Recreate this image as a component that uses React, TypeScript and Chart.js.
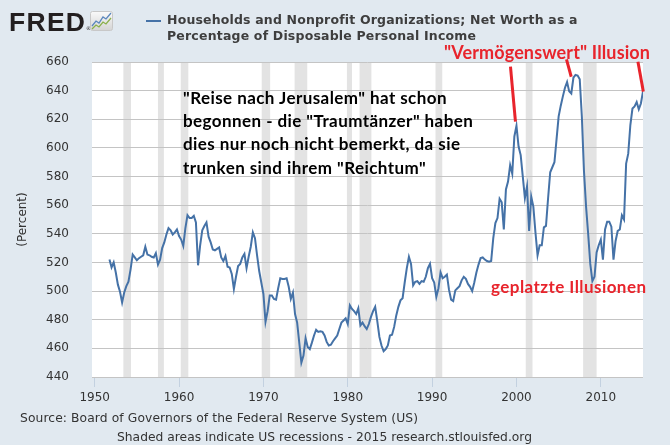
import React, { useEffect, useRef } from "react";
import { Chart, registerables } from "chart.js";

Chart.register(...registerables);

// ---------- data ----------
const startQuarter = 1951.75; // first observation (decimal year), quarterly
const netWorthPct = [
  522, 516.5, 520, 513, 504.5, 499.5, 492, 499, 503.5, 506.5, 515, 525.5,
  523.5, 521.5, 523, 524, 525, 531, 525.5, 525, 524, 523.5, 526.5, 518.5,
  522, 530, 534, 539.5, 544, 542.5, 539.5, 541, 543, 538.5, 536, 531.5,
  544, 553, 551, 551, 552.5, 548, 518, 532, 542.5, 545.5, 548, 538,
  534, 529, 528.5, 529.5, 530.5, 523.5, 521, 524.5, 517, 516.5, 512, 501.5,
  510, 517.5, 519, 523.5, 526, 516, 524, 531, 541, 537, 525, 514,
  506, 498, 478.5, 486, 497, 497, 494.5, 494, 502, 509, 508.5, 508.5,
  509, 503, 494.5, 499, 484, 478, 464, 450, 455, 467, 461, 459.5,
  464, 469, 473, 471.5, 472, 471.5, 469, 464.5, 462, 462.5, 465, 467,
  469, 473.5, 478, 479.5, 481, 477, 490, 487.5, 486, 484, 488, 476,
  478, 475.5, 473.5, 477, 482, 486, 489, 479, 468, 462, 458, 459.5,
  462, 469, 469.5, 475, 483, 489, 493.5, 495, 506, 516, 524, 519,
  504, 506.5, 507, 505, 507, 506.5, 510, 516, 519, 509, 506, 496,
  502, 513, 509, 510, 511.5, 501, 494, 493, 500.5, 502, 503.5, 507.5,
  510, 508.5, 505, 503, 500, 506, 513, 518.5, 523, 523.5, 522, 521,
  520.5, 521, 537, 547.5, 551, 564.5, 562, 543, 571, 576.5, 588, 582,
  608, 615.5, 601, 595, 580, 565, 573, 542, 566, 559, 541, 525,
  532, 532, 544.5, 545.5, 565, 583, 586.5, 590, 606, 622, 629.5, 636,
  642, 646, 639.5, 638, 649, 651, 650.5, 648, 622, 584, 559, 540,
  519, 507, 510, 527, 532, 536, 522, 543, 548.5, 548.5, 545, 522,
  535, 542, 543, 553, 550, 589, 596, 616, 627.5, 629, 632, 627,
  631, 639.5,
];

// US recessions (start, end) as decimal years
const recessionStarts = [1953.4, 1957.5, 1960.2, 1969.8, 1973.7, 1979.9, 1981.4, 1990.4, 2001.1, 2007.9];
const recessionEnds = [1954.3, 1958.2, 1961.1, 1970.8, 1975.2, 1980.5, 1982.8, 1991.2, 2001.9, 2009.5];

const xTickYears = [1950, 1960, 1970, 1980, 1990, 2000, 2010];
const yMin = 440;
const yMax = 660;
const yStep = 20;
const xMin = 1949.68;
const xMax = 2015.0;

// red annotation strokes: [year1, value1, year2, value2]
const annotationLines = [
  [1999.29, 656.7, 1999.88, 618.3],
  [2005.93, 661.9, 2006.49, 649.7],
  [2014.4, 660.2, 2015.04, 639.3],
];

const titleLines = [
  "Households and Nonprofit Organizations; Net Worth as a",
  "Percentage of Disposable Personal Income",
];
const commentLines = [
  "\"Reise nach Jerusalem\" hat schon",
  "begonnen - die \"Traumtänzer\" haben",
  "dies nur noch nicht bemerkt, da sie",
  "trunken sind ihrem \"Reichtum\"",
];
const illusionLabel = "\"Vermögenswert\" Illusion";
const burstLabel = "geplatzte Illusionen";
const sourceText = "Source: Board of Governors of the Federal Reserve System (US)";
const shadedText = "Shaded areas indicate US recessions - 2015 research.stlouisfed.org";

const LINE_BLUE = "#4572a7";
const RED = "#e8242c";
const SANS = "'DejaVu Sans', sans-serif";
const NOTE_FONT = "Lato, 'Open Sans', sans-serif";
const LOGO_FONT = "'Liberation Sans', Arial, sans-serif";

// text width fitting (letter-spacing so that a line spans a target width)
let measureCtx: CanvasRenderingContext2D | null = null;
function measure(text: string, font: string): number {
  if (!measureCtx) {
    const c = document.createElement("canvas");
    measureCtx = c.getContext("2d");
  }
  if (!measureCtx) return 0;
  measureCtx.font = font;
  return measureCtx.measureText(text).width;
}
function spacing(text: string, font: string, target: number): number {
  const w = measure(text, font);
  if (!w) return 0;
  return (target - w) / Math.max(1, text.length - 1);
}

const backgroundPlugin = {
  id: "plotBackground",
  beforeDraw(chart: any) {
    const { ctx, chartArea: a, scales } = chart;
    const x = scales.x;
    ctx.save();
    ctx.fillStyle = "#ffffff";
    ctx.fillRect(a.left, a.top, a.right - a.left, a.bottom - a.top);
    ctx.fillStyle = "#e3e3e3";
    for (let i = 0; i < recessionStarts.length; i++) {
      const x1 = Math.max(a.left, x.getPixelForValue(recessionStarts[i]));
      const x2 = Math.min(a.right, x.getPixelForValue(recessionEnds[i]));
      if (x2 > x1) ctx.fillRect(x1, a.top, x2 - x1, a.bottom - a.top);
    }
    ctx.restore();
  },
};

const annotationPlugin = {
  id: "redStrokes",
  afterDraw(chart: any) {
    const { ctx, scales } = chart;
    const x = scales.x;
    const y = scales.y;
    ctx.save();
    ctx.strokeStyle = RED;
    ctx.lineWidth = 3;
    ctx.lineCap = "butt";
    for (const [x1, y1, x2, y2] of annotationLines) {
      ctx.beginPath();
      ctx.moveTo(x.getPixelForValue(x1), y.getPixelForValue(y1));
      ctx.lineTo(x.getPixelForValue(x2), y.getPixelForValue(y2));
      ctx.stroke();
    }
    ctx.restore();
  },
};

function FredIcon() {
  return (
    <svg width={23} height={20} viewBox="0 0 23 20" style={{ position: "absolute", left: 90, top: 11 }}>
      <defs>
        <linearGradient id="fredg" x1="0" y1="0" x2="0" y2="1">
          <stop offset="0" stopColor="#fafafa" />
          <stop offset="1" stopColor="#d4d4d4" />
        </linearGradient>
      </defs>
      <rect x="0.5" y="0.5" width="22" height="19" rx="2" fill="url(#fredg)" stroke="#c8c8c8" />
      <polyline points="2,15 6,10 9,12 13,6 16,8 21,2" fill="none" stroke="#5b87bd" strokeWidth="1.3" />
      <polyline points="2,18 6,14 9,16 13,11 16,13 21,7" fill="none" stroke="#8ab04a" strokeWidth="1.3" />
    </svg>
  );
}

type FitProps = {
  text: string;
  left: number;
  top: number;
  size: number;
  weight: number;
  family: string;
  target: number;
  color: string;
  lineHeight: string;
  ls?: number;
};
function FitText(p: FitProps) {
  const font = `${p.weight >= 600 ? "bold " : ""}${p.size}px ${p.family}`;
  const ls = p.ls !== undefined ? p.ls : spacing(p.text, font, p.target);
  return (
    <div
      style={{
        position: "absolute",
        left: p.left,
        top: p.top,
        fontFamily: p.family,
        fontWeight: p.weight,
        fontSize: p.size,
        lineHeight: p.lineHeight,
        letterSpacing: ls,
        color: p.color,
        whiteSpace: "pre",
      }}
    >
      {p.text}
    </div>
  );
}

export default function App() {
  const canvasRef = useRef<HTMLCanvasElement | null>(null);

  useEffect(() => {
    const canvas = canvasRef.current;
    if (!canvas) return;
    const points = netWorthPct.map((v, i) => ({ x: startQuarter + i * 0.25, y: v }));
    const chart = new Chart(canvas, {
      type: "line",
      data: {
        datasets: [
          {
            data: points,
            borderColor: LINE_BLUE,
            borderWidth: 2,
            pointRadius: 0,
            tension: 0,
            fill: false,
          },
        ],
      },
      options: {
        responsive: false,
        animation: false,
        devicePixelRatio: 1,
        layout: { padding: { left: 0, top: 62, right: 27, bottom: 0 } },
        plugins: {
          legend: { display: false },
          tooltip: { enabled: false },
        },
        scales: {
          x: {
            type: "linear",
            min: xMin,
            max: xMax,
            afterFit: (s: any) => {
              s.height = 68;
            },
            afterBuildTicks: (s: any) => {
              s.ticks = xTickYears.map((v) => ({ value: v }));
            },
            grid: {
              drawOnChartArea: false,
              drawTicks: true,
              tickLength: 10,
              color: "#c3d1e0",
            },
            border: { display: false },
            ticks: {
              padding: 4,
              color: "#333333",
              font: { family: SANS, size: 12 },
              maxRotation: 0,
              autoSkip: false,
              callback: (v: any) => String(v),
            },
          },
          y: {
            min: yMin,
            max: yMax,
            afterFit: (s: any) => {
              s.width = 92;
            },
            ticks: {
              stepSize: yStep,
              padding: 23,
              color: "#333333",
              font: { family: SANS, size: 12 },
            },
            grid: {
              color: "#c4c4c4",
              lineWidth: 1,
              drawTicks: false,
            },
            border: { display: false },
            title: {
              display: true,
              text: "(Percent)",
              color: "#333333",
              font: { family: SANS, size: 12 },
              padding: { top: 15.5, bottom: 0 },
            },
          },
        },
      },
      plugins: [backgroundPlugin, annotationPlugin],
    } as any);
    return () => chart.destroy();
  }, []);

  const commentFont = `bold 17px ${NOTE_FONT}`;
  const commentLs = spacing(commentLines[0], commentFont, 264);

  return (
    <div
      style={{
        position: "absolute",
        left: 0,
        top: 0,
        width: 670,
        height: 445,
        background: "#e1e9f0",
        overflow: "hidden",
        fontFamily: SANS,
      }}
    >
      <canvas
        ref={canvasRef}
        width={670}
        height={445}
        style={{ position: "absolute", left: 0, top: 0, width: 670, height: 445 }}
      />
      {/* FRED logo */}
      <FitText text="FRED" left={9} top={8.5} size={26.5} weight={700} family={LOGO_FONT} target={76} color="#231f20" lineHeight="1" />
      <div style={{ position: "absolute", left: 86, top: 25, fontSize: 5, color: "#231f20" }}>®</div>
      <FredIcon />
      {/* legend + title */}
      <div style={{ position: "absolute", left: 146, top: 19.5, width: 15, height: 2.5, background: LINE_BLUE }} />
      <FitText text={titleLines[0]} left={167} top={12.4} size={12.5} weight={700} family={SANS} target={410} color="#3e3e3e" lineHeight="16px" />
      <FitText text={titleLines[1]} left={167} top={28.4} size={12.5} weight={700} family={SANS} target={309} color="#3e3e3e" lineHeight="16px" />
      {/* comment */}
      {commentLines.map((t, i) => (
        <FitText
          key={i}
          text={t}
          left={183}
          top={86 + i * 23.2}
          size={17}
          weight={700}
          family={NOTE_FONT}
          target={0}
          ls={commentLs}
          color="#000000"
          lineHeight="23.2px"
        />
      ))}
      <FitText text={illusionLabel} left={444} top={41.5} size={18} weight={700} family={NOTE_FONT} target={206} color={RED} lineHeight="1.2" />
      <FitText text={burstLabel} left={491} top={277.2} size={17} weight={700} family={NOTE_FONT} target={155} color={RED} lineHeight="1.2" />
      {/* footer */}
      <FitText text={sourceText} left={20} top={411} size={12.3} weight={400} family={SANS} target={398} color="#333333" lineHeight="14px" />
      <FitText text={shadedText} left={117} top={429.7} size={12.3} weight={400} family={SANS} target={415} color="#333333" lineHeight="14px" />
    </div>
  );
}
